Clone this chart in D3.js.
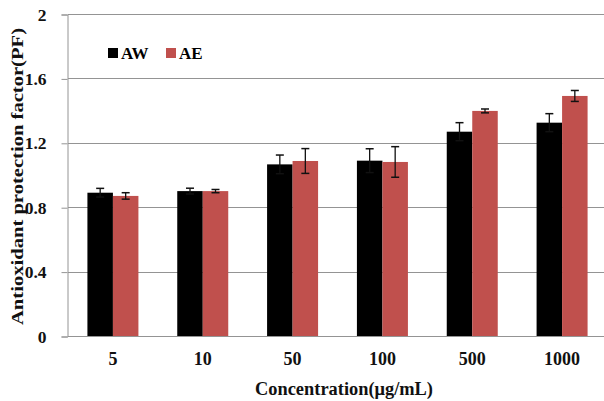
<!DOCTYPE html>
<html>
<head>
<meta charset="utf-8">
<script src="https://cdn.jsdelivr.net/npm/d3@7"></script>
<style>
  body { margin: 0; background: #fff; }
  text { font-family: "Liberation Serif", "Times New Roman", serif; font-weight: bold; }
</style>
</head>
<body>
<div class="chart"></div>
<script>
var categories = ["5", "10", "50", "100", "500", "1000"];
var seriesNames = ["AW", "AE"];
var awValues = [0.89, 0.90, 1.066, 1.089, 1.269, 1.325];
var awErrors = [0.027, 0.018, 0.058, 0.074, 0.056, 0.056];
var aeValues = [0.87, 0.90, 1.087, 1.081, 1.398, 1.491];
var aeErrors = [0.02, 0.01, 0.077, 0.095, 0.012, 0.034];
var yTicks = [0, 0.4, 0.8, 1.2, 1.6, 2];
var colors = ["#000000", "#C0504D"];

var width = 604, height = 401;
var marginLeft = 68, marginTop = 14, plotRight = 607, plotBottom = 336;

var svg = d3.select(".chart").append("svg")
  .attr("width", width)
  .attr("height", height);

var yScale = d3.scaleLinear().domain([0, 2]).range([plotBottom, marginTop]);
var xScale = d3.scaleBand().domain(categories).range([marginLeft, plotRight]).paddingInner(0).paddingOuter(0);
var inner = d3.scaleBand().domain(seriesNames).range([0, 51]);

// gridlines
svg.append("g")
  .selectAll("line")
  .data(yTicks)
  .enter().append("line")
  .attr("x1", marginLeft).attr("x2", plotRight)
  .attr("y1", function(d) { return Math.round(yScale(d)) + 0.5; })
  .attr("y2", function(d) { return Math.round(yScale(d)) + 0.5; })
  .attr("stroke", "#949494").attr("stroke-width", 1);

// y axis
var yAxis = d3.axisLeft(yScale).tickValues(yTicks).tickSize(6).tickPadding(15)
  .tickFormat(function(d) { return String(d); });
var yg = svg.append("g").attr("transform", "translate(" + (marginLeft - 0.5) + ",0.5)").call(yAxis);
yg.select(".domain").attr("stroke", "#949494");
yg.selectAll(".tick line").attr("stroke", "#949494");
yg.selectAll(".tick text").attr("font-size", 17.5).attr("fill", "#111")
  .style("font-family", "'Liberation Serif', serif").style("font-weight", "bold");

var data = categories.map(function(c, i) {
  return [
    { cat: c, s: "AW", v: awValues[i], e: awErrors[i] },
    { cat: c, s: "AE", v: aeValues[i], e: aeErrors[i] }
  ];
});

var groups = svg.selectAll(".grp")
  .data(data)
  .enter().append("g")
  .attr("class", "grp")
  .attr("transform", function(d) { return "translate(" + (xScale(d[0].cat) + xScale.bandwidth() / 2 - 25.5) + ",0)"; });

groups.selectAll("rect")
  .data(function(d) { return d; })
  .enter().append("rect")
  .attr("x", function(d) { return inner(d.s); })
  .attr("width", inner.bandwidth())
  .attr("y", function(d) { return yScale(d.v); })
  .attr("height", function(d) { return plotBottom - yScale(d.v); })
  .attr("fill", function(d, i) { return colors[i]; });

// error bars
var err = groups.selectAll(".err")
  .data(function(d) { return d; })
  .enter().append("g")
  .attr("class", "err")
  .attr("transform", function(d) { return "translate(" + (inner(d.s) + inner.bandwidth() / 2) + ",0)"; });

err.append("line")
  .attr("x1", 0).attr("x2", 0)
  .attr("y1", function(d) { return yScale(d.v + d.e); })
  .attr("y2", function(d) { return yScale(d.v - d.e); })
  .attr("stroke", "#111").attr("stroke-width", 1.3);
err.append("line")
  .attr("x1", -4).attr("x2", 4)
  .attr("y1", function(d) { return yScale(d.v + d.e); })
  .attr("y2", function(d) { return yScale(d.v + d.e); })
  .attr("stroke", "#111").attr("stroke-width", 1.5);
err.append("line")
  .attr("x1", -4).attr("x2", 4)
  .attr("y1", function(d) { return yScale(d.v - d.e); })
  .attr("y2", function(d) { return yScale(d.v - d.e); })
  .attr("stroke", "#111").attr("stroke-width", 1.5);

// x labels
svg.append("g")
  .selectAll("text")
  .data(categories)
  .enter().append("text")
  .attr("x", function(d) { return xScale(d) + xScale.bandwidth() / 2; })
  .attr("y", 365)
  .attr("text-anchor", "middle")
  .attr("font-size", 18)
  .attr("fill", "#111")
  .text(function(d) { return d; });

// axis titles
svg.append("text")
  .attr("x", 344).attr("y", 395)
  .attr("text-anchor", "middle")
  .attr("font-size", 18)
  .attr("textLength", 178)
  .attr("lengthAdjust", "spacingAndGlyphs")
  .attr("fill", "#111")
  .text("Concentration(μg/mL)");

svg.append("text")
  .attr("transform", "translate(23,176.5) rotate(-90)")
  .attr("text-anchor", "middle")
  .attr("font-size", 17)
  .attr("textLength", 297)
  .attr("lengthAdjust", "spacingAndGlyphs")
  .attr("fill", "#111")
  .text("Antioxidant protection factor(PF)");

// legend
var legend = svg.append("g").selectAll("g")
  .data(seriesNames)
  .enter().append("g")
  .attr("transform", function(d, i) { return "translate(" + (108 + i * 58) + ",48)"; });
legend.append("rect")
  .attr("width", 10).attr("height", 10)
  .attr("fill", function(d, i) { return colors[i]; });
legend.append("text")
  .attr("x", 13).attr("y", 11)
  .attr("font-size", 17)
  .attr("fill", "#000")
  .text(function(d) { return d; });
</script>
</body>
</html>
